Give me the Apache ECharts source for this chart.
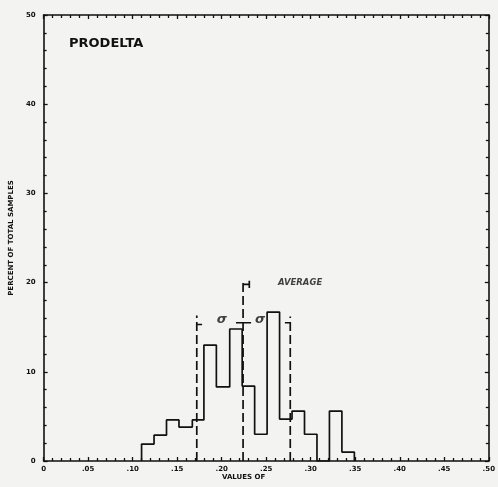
<!DOCTYPE html>
<html>
<head>
<meta charset="utf-8">
<style>
  html, body { margin: 0; padding: 0; background: #f3f3f1; }
  #chart { width: 498px; height: 487px; }
</style>
<script src="https://cdn.jsdelivr.net/npm/echarts@6/dist/echarts.min.js"></script>
</head>
<body>
<div id="chart"></div>
<script>
// bin edges (values of)
var binEdges = [0.110, 0.124, 0.138, 0.152, 0.167, 0.180, 0.194, 0.209, 0.223,
                0.237, 0.251, 0.265, 0.279, 0.293, 0.307, 0.321, 0.335, 0.349];
// percent of total samples per bin
var binPercent = [1.9, 2.9, 4.6, 3.8, 4.6, 13.0, 8.3, 14.8, 8.4,
                  3.0, 16.7, 4.7, 5.6, 3.0, 0, 5.6, 1.0];
var xTickLabels = ['0', '.05', '.10', '.15', '.20', '.25', '.30', '.35', '.40', '.45', '.50'];
var yTickLabels = ['0', '10', '20', '30', '40', '50'];

var average = 0.224;
var sigmaLow = 0.172;
var sigmaHigh = 0.277;

var ink = '#111';
var labelFont = { color: ink, fontSize: 7, fontWeight: 'bold', fontFamily: 'DejaVu Sans' };

// outline of the histogram
var outline = [[binEdges[0], 0]];
for (var i = 0; i < binPercent.length; i++) {
    outline.push([binEdges[i], binPercent[i]]);
    outline.push([binEdges[i + 1], binPercent[i]]);
}
outline.push([binEdges[binEdges.length - 1], 0]);

function seg(points, dashed) {
    return {
        type: 'line',
        data: points,
        symbol: 'none',
        silent: true,
        lineStyle: { color: ink, width: 1.7, type: dashed ? [9, 4] : 'solid' },
        z: 3
    };
}

var chart = echarts.init(document.getElementById('chart'));

function axisCommon() {
    return {
        axisLine: { show: true, onZero: false, lineStyle: { color: ink, width: 1.6 } },
        axisTick: { show: true, inside: true, length: 4, lineStyle: { color: ink, width: 1.3 } },
        minorTick: { show: true, splitNumber: 5, length: 3, lineStyle: { color: ink, width: 1.3 } },
        splitLine: { show: false }
    };
}

var option = {
    backgroundColor: '#f3f3f1',
    animation: false,
    title: {
        text: 'PRODELTA',
        left: 64,
        top: 32,
        textStyle: { color: ink, fontSize: 13, fontWeight: 'bold', fontFamily: 'DejaVu Sans' }
    },
    grid: { left: 43, right: 8, top: 15, bottom: 26 },
    xAxis: [
        Object.assign({
            type: 'value', min: 0, max: 0.5, interval: 0.05,
            axisLabel: Object.assign({
                margin: 5,
                formatter: function (v) { return xTickLabels[Math.round(v / 0.05)]; }
            }, labelFont)
        }, axisCommon()),
        Object.assign({
            type: 'value', min: 0, max: 0.5, interval: 0.05, position: 'top',
            axisLabel: { show: false }
        }, axisCommon())
    ],
    yAxis: [
        Object.assign({
            type: 'value', min: 0, max: 50, interval: 10,
            name: 'PERCENT OF TOTAL SAMPLES',
            nameLocation: 'middle',
            nameGap: 26,
            nameRotate: 90,
            nameTextStyle: labelFont,
            axisLabel: Object.assign({
                margin: 8,
                formatter: function (v) { return yTickLabels[Math.round(v / 10)]; }
            }, labelFont)
        }, axisCommon()),
        Object.assign({
            type: 'value', min: 0, max: 50, interval: 10, position: 'right',
            axisLabel: { show: false }
        }, axisCommon())
    ],
    graphic: [{
        type: 'text',
        left: 222,
        top: 474,
        style: { text: 'VALUES OF', fill: ink, font: 'bold 7px "DejaVu Sans"' }
    }],
    series: [
        seg(outline, false),
        // sigma and average markers
        seg([[sigmaLow, 0], [sigmaLow, 16.3]], true),
        seg([[sigmaLow, 15.3], [sigmaLow + 0.006, 15.3]], false),
        seg([[average, 0], [average, 20.1]], true),
        seg([[average, 19.8], [average + 0.007, 19.8]], false),
        seg([[average + 0.007, 19.4], [average + 0.007, 20.2]], false),
        seg([[average - 0.008, 15.5], [average + 0.009, 15.5]], false),
        seg([[sigmaHigh, 0], [sigmaHigh, 16.2]], true),
        seg([[sigmaHigh - 0.006, 15.5], [sigmaHigh, 15.5]], false),
        {
            type: 'scatter',
            symbolSize: 0,
            silent: true,
            data: [
                { value: [0.200, 15.8], label: { formatter: 'σ', fontSize: 13, fontStyle: 'italic' } },
                { value: [0.243, 15.8], label: { formatter: 'σ', fontSize: 13, fontStyle: 'italic' } },
                { value: [0.288, 20.0], label: { formatter: 'AVERAGE', fontSize: 8.5, fontStyle: 'italic' } }
            ],
            label: {
                show: true,
                position: 'inside',
                color: ink,
                fontWeight: 'bold',
                fontFamily: 'DejaVu Sans'
            }
        }
    ]
};

chart.setOption(option);
</script>
</body>
</html>
